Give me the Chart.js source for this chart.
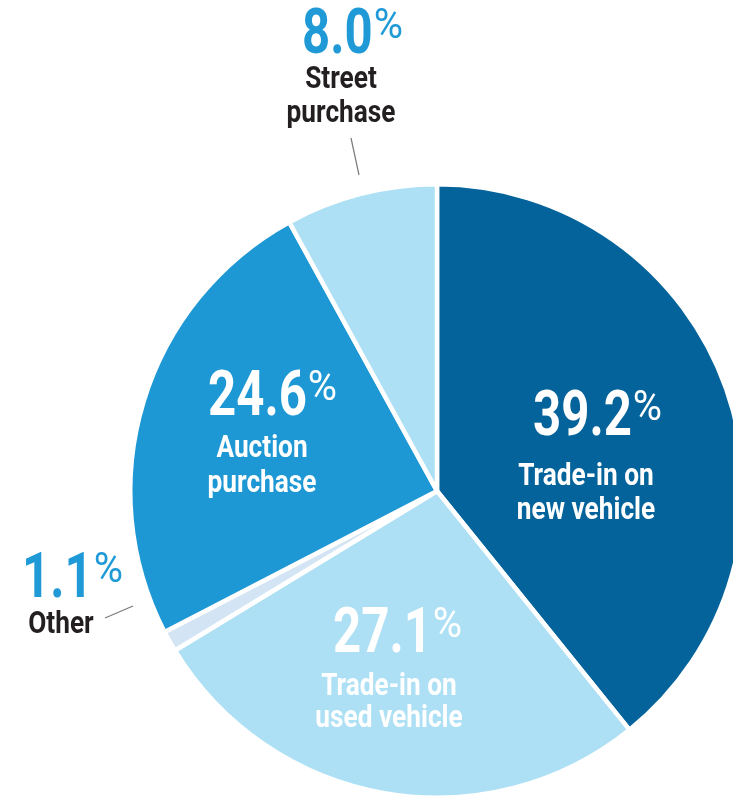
<!DOCTYPE html>
<html>
<head>
<meta charset="utf-8">
<script src="https://cdn.jsdelivr.net/npm/chart.js@4"></script>
<style>
  html, body { margin: 0; padding: 0; background: #ffffff; overflow: hidden; width: 733px; height: 800px; }
  #wrap { position: absolute; left: 0; top: 0; width: 760px; height: 800px; }
</style>
</head>
<body>
<div id="wrap"><canvas id="c" width="760" height="800"></canvas></div>
<script>
// ---- data ----
const categories = ["Trade-in on new vehicle", "Trade-in on used vehicle", "Other", "Auction purchase", "Street purchase"];
const shares = [39.2, 27.1, 1.1, 24.6, 8.0];
const labelLines = [["Trade-in on", "new vehicle"], ["Trade-in on", "used vehicle"], ["Other"], ["Auction", "purchase"], ["Street", "purchase"]];

// ---- styling / layout (not data) ----
const sliceColors = ["#04639a", "#ade0f4", "#d3e5f5", "#1e98d5", "#ade0f4"];
const FONT = "Roboto, 'DejaVu Sans Condensed', sans-serif";
const labelLayout = [
  { nx: 533, ny: 435, cx: 586, ly: [485, 519], numColor: "#ffffff", txtColor: "#ffffff" },
  { nx: 333, ny: 652, cx: 389, ly: [695, 727], numColor: "#ffffff", txtColor: "#ffffff" },
  { nx: 22,  ny: 597, cx: 61,  ly: [633],      numColor: "#1f9ad6", txtColor: "#231f20", leader: [105, 618, 133, 606] },
  { nx: 208, ny: 415, cx: 262, ly: [457, 492], numColor: "#ffffff", txtColor: "#ffffff" },
  { nx: 302, ny: 53,  cx: 341, ly: [88, 122],  numColor: "#1f9ad6", txtColor: "#231f20", leader: [351, 138, 359, 175] }
];
const NUM_SIZE = 63, PCT_SIZE = 42, TXT_SIZE = 32;
const NUM_SQUEEZE = 0.78, PCT_SQUEEZE = 0.95, TXT_SQUEEZE = 0.82;

const labelPlugin = {
  id: "sliceLabels",
  afterDraw(chart) {
    const ctx = chart.ctx;
    const vals = chart.data.datasets[0].data;
    ctx.save();
    ctx.textBaseline = "alphabetic";
    vals.forEach((v, i) => {
      const L = labelLayout[i];
      if (L.leader) {
        ctx.strokeStyle = "#7a7a7a";
        ctx.lineWidth = 1.2;
        ctx.beginPath();
        ctx.moveTo(L.leader[0], L.leader[1]);
        ctx.lineTo(L.leader[2], L.leader[3]);
        ctx.stroke();
      }
      const numStr = v.toFixed(1);
      ctx.textAlign = "left";
      ctx.fillStyle = L.numColor;
      ctx.font = "bold " + NUM_SIZE + "px " + FONT;
      const w = ctx.measureText(numStr).width * NUM_SQUEEZE;
      ctx.save();
      ctx.translate(L.nx, L.ny);
      ctx.scale(NUM_SQUEEZE, 1);
      ctx.fillText(numStr, 0, 0);
      ctx.restore();
      ctx.font = "normal " + PCT_SIZE + "px " + FONT;
      const pctY = L.ny - 0.711 * NUM_SIZE + 0.711 * PCT_SIZE;
      ctx.save();
      ctx.translate(L.nx + w + 1, pctY);
      ctx.scale(PCT_SQUEEZE, 1);
      ctx.fillText("%", 0, 0);
      ctx.restore();
      ctx.font = "bold " + TXT_SIZE + "px " + FONT;
      ctx.fillStyle = L.txtColor;
      ctx.textAlign = "center";
      labelLines[i].forEach((line, k) => {
        ctx.save();
        ctx.translate(L.cx, L.ly[k]);
        ctx.scale(TXT_SQUEEZE, 1);
        ctx.fillText(line, 0, 0);
        ctx.restore();
      });
    });
    ctx.restore();
  }
};

new Chart(document.getElementById("c"), {
  type: "pie",
  data: {
    labels: categories,
    datasets: [{
      data: shares,
      backgroundColor: sliceColors,
      borderColor: "#ffffff",
      borderWidth: 4.5,
      hoverOffset: 0,
      clip: false
    }]
  },
  options: {
    responsive: false,
    animation: false,
    events: [],
    layout: { padding: { left: 128, top: 182, right: 14, bottom: 0 } },
    plugins: { legend: { display: false }, tooltip: { enabled: false } }
  },
  plugins: [labelPlugin]
});
</script>
</body>
</html>
